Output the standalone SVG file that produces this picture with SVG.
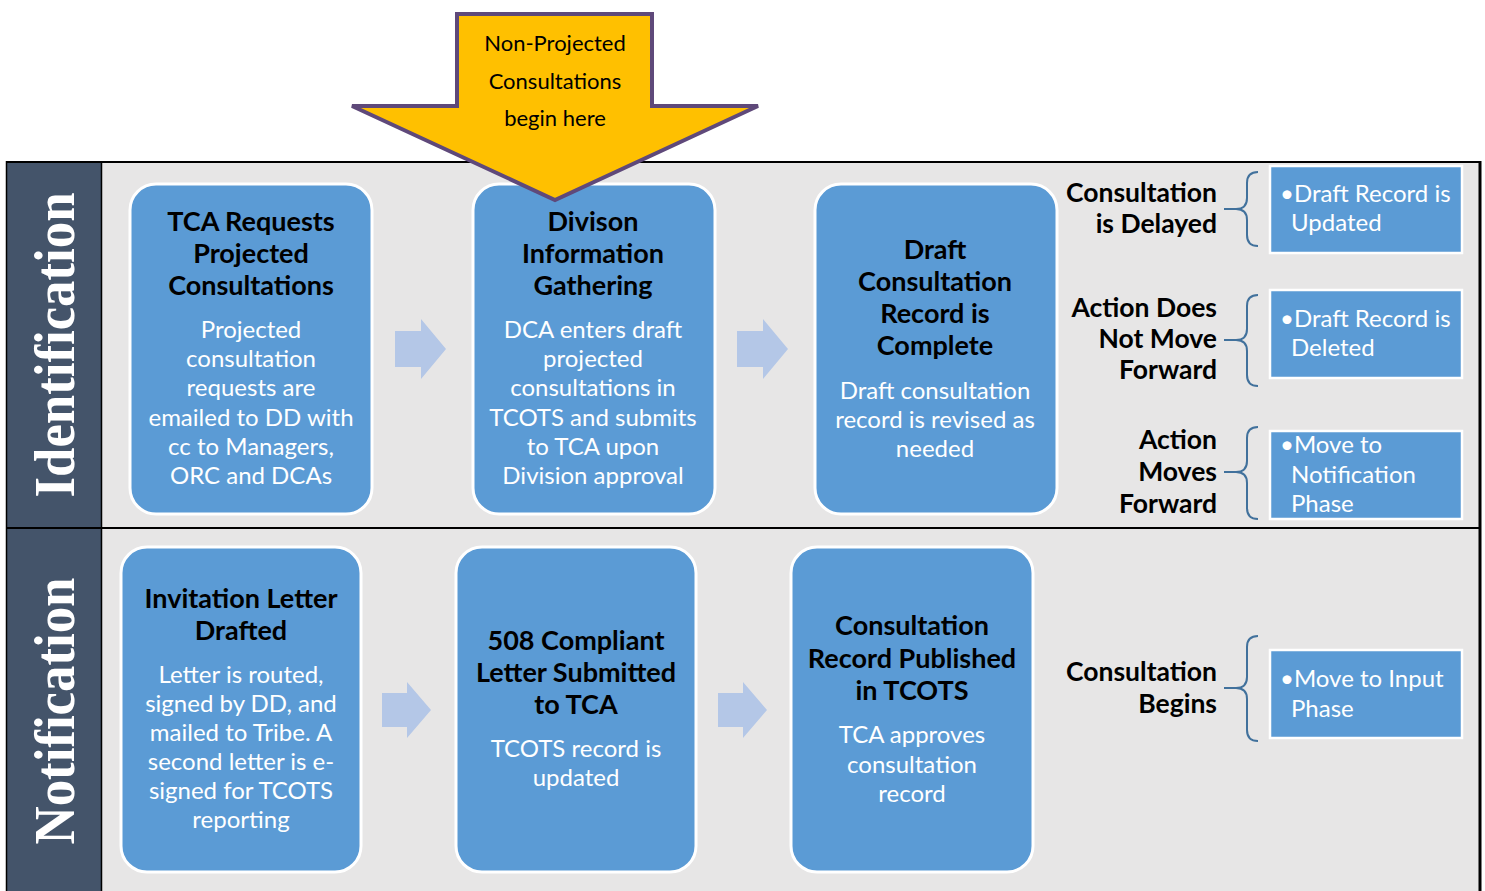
<svg xmlns="http://www.w3.org/2000/svg" width="1485" height="891" viewBox="0 0 1485 891">
  <style>
    .step rect { fill: #5b9bd5; stroke: #ffffff; stroke-width: 3; }
    .title { font-family: Lato, "Open Sans", sans-serif; font-weight: 700; font-size: 27px; fill: #000000; text-anchor: middle; }
    .body { font-family: Lato, "Open Sans", sans-serif; font-size: 24px; fill: #ffffff; text-anchor: middle; }
    .result rect { fill: #5b9bd5; stroke: #ffffff; stroke-width: 2.5; }
    .result text { font-family: Lato, "Open Sans", sans-serif; font-size: 24px; fill: #ffffff; }
    .result text.outcome { font-weight: 700; font-size: 26.5px; fill: #000000; text-anchor: end; }
    .phase { font-family: "Liberation Serif", serif; font-weight: 700; font-size: 56px; fill: #ffffff; text-anchor: middle; }
    .brace { fill: none; stroke: #41719c; stroke-width: 2; }
    .flow { fill: #b4c7e7; }
    .entry { font-family: Lato, "Open Sans", sans-serif; font-size: 22px; fill: #000000; text-anchor: middle; }
  </style>

  <!-- swimlane frame -->
  <g id="lanes">
    <rect x="102" y="162" width="1377" height="729" fill="#e7e6e6"/>
    <rect x="7" y="162" width="95" height="729" fill="#44546a"/>
    <line x1="6.5" y1="162" x2="1481" y2="162" stroke="#000" stroke-width="2"/>
    <line x1="6.5" y1="161" x2="6.5" y2="891" stroke="#000" stroke-width="1.5"/>
    <line x1="101.5" y1="162" x2="101.5" y2="891" stroke="#000" stroke-width="1.5"/>
    <line x1="1480" y1="161" x2="1480" y2="891" stroke="#000" stroke-width="3"/>
    <line x1="6.5" y1="528" x2="1481" y2="528" stroke="#000" stroke-width="2"/>
    <text class="phase" transform="translate(74,345) rotate(-90)" textLength="305" lengthAdjust="spacingAndGlyphs">Identification</text>
    <text class="phase" transform="translate(74,711) rotate(-90)" textLength="267" lengthAdjust="spacingAndGlyphs">Notification</text>
  </g>

  <!-- flow arrows between steps, and braces to the outcomes -->
  <g id="connectors">
    <polygon class="flow" points="395,331 421,331 421,319 446,349 421,379 421,367 395,367"/>
    <polygon class="flow" points="737,331 763,331 763,319 788,349 763,379 763,367 737,367"/>
    <polygon class="flow" points="382,693 407,693 407,682 431,710 407,738 407,727 382,727"/>
    <polygon class="flow" points="718,693 743,693 743,682 767,710 743,738 743,727 718,727"/>
    <path class="brace" d="M1258,172 Q1247,172 1247,183 L1247,198 Q1247,209 1236,209 L1224,209 M1236,209 Q1247,209 1247,220 L1247,235 Q1247,246 1258,246"/>
    <path class="brace" d="M1258,295 Q1247,295 1247,306 L1247,329 Q1247,340 1236,340 L1224,340 M1236,340 Q1247,340 1247,351 L1247,375 Q1247,386 1258,386"/>
    <path class="brace" d="M1258,427 Q1247,427 1247,438 L1247,461 Q1247,472 1236,472 L1224,472 M1236,472 Q1247,472 1247,483 L1247,508 Q1247,519 1258,519"/>
    <path class="brace" d="M1258,636 Q1247,636 1247,647 L1247,677 Q1247,688 1236,688 L1224,688 M1236,688 Q1247,688 1247,699 L1247,730 Q1247,741 1258,741"/>
  </g>

  <!-- identification steps -->
  <g id="tca-requests" class="step">
    <rect x="130" y="184" width="242" height="330" rx="26"/>
    <text class="title" x="251" y="231">TCA Requests</text>
    <text class="title" x="251" y="263">Projected</text>
    <text class="title" x="251" y="295">Consultations</text>
    <text class="body" x="251" y="338">Projected</text>
    <text class="body" x="251" y="367">consultation</text>
    <text class="body" x="251" y="396">requests are</text>
    <text class="body" x="251" y="426">emailed to DD with</text>
    <text class="body" x="251" y="455">cc to Managers,</text>
    <text class="body" x="251" y="484">ORC and DCAs</text>
  </g>

  <g id="division-gathering" class="step">
    <rect x="473" y="184" width="242" height="330" rx="26"/>
    <text class="title" x="593" y="231">Divison</text>
    <text class="title" x="593" y="263">Information</text>
    <text class="title" x="593" y="295">Gathering</text>
    <text class="body" x="593" y="338">DCA enters draft</text>
    <text class="body" x="593" y="367">projected</text>
    <text class="body" x="593" y="396">consultations in</text>
    <text class="body" x="593" y="426">TCOTS and submits</text>
    <text class="body" x="593" y="455">to TCA upon</text>
    <text class="body" x="593" y="484">Division approval</text>
  </g>

  <g id="draft-complete" class="step">
    <rect x="815" y="184" width="242" height="330" rx="26"/>
    <text class="title" x="935" y="259">Draft</text>
    <text class="title" x="935" y="291">Consultation</text>
    <text class="title" x="935" y="323">Record is</text>
    <text class="title" x="935" y="355">Complete</text>
    <text class="body" x="935" y="399">Draft consultation</text>
    <text class="body" x="935" y="428">record is revised as</text>
    <text class="body" x="935" y="457">needed</text>
  </g>

  <!-- entry point for non-projected consultations -->
  <g id="non-projected">
    <polygon points="457,14 652,14 652,106 758,106 555,200 352,106 457,106" fill="#ffc000" stroke="#5f497a" stroke-width="4" stroke-linejoin="miter"/>
    <text class="entry" x="555" y="51">Non-Projected</text>
    <text class="entry" x="555" y="89">Consultations</text>
    <text class="entry" x="555" y="126">begin here</text>
  </g>

  <!-- identification outcomes -->
  <g id="delayed" class="result">
    <text class="outcome" x="1217" y="202">Consultation</text>
    <text class="outcome" x="1217" y="233">is Delayed</text>
    <rect x="1270" y="166" width="192" height="87"/>
    <text x="1280" y="202">•Draft Record is</text>
    <text x="1291" y="231">Updated</text>
  </g>

  <g id="not-forward" class="result">
    <text class="outcome" x="1217" y="317">Action Does</text>
    <text class="outcome" x="1217" y="348">Not Move</text>
    <text class="outcome" x="1217" y="379">Forward</text>
    <rect x="1270" y="290" width="192" height="88"/>
    <text x="1280" y="327">•Draft Record is</text>
    <text x="1291" y="356">Deleted</text>
  </g>

  <g id="moves-forward" class="result">
    <text class="outcome" x="1217" y="449">Action</text>
    <text class="outcome" x="1217" y="481">Moves</text>
    <text class="outcome" x="1217" y="513">Forward</text>
    <rect x="1270" y="431" width="192" height="88"/>
    <text x="1280" y="453">•Move to</text>
    <text x="1291" y="483">Notification</text>
    <text x="1291" y="512">Phase</text>
  </g>

  <!-- notification steps -->
  <g id="invitation-letter" class="step">
    <rect x="121" y="547" width="240" height="325" rx="26"/>
    <text class="title" x="241" y="608">Invitation Letter</text>
    <text class="title" x="241" y="640">Drafted</text>
    <text class="body" x="241" y="683">Letter is routed,</text>
    <text class="body" x="241" y="712">signed by DD, and</text>
    <text class="body" x="241" y="741">mailed to Tribe. A</text>
    <text class="body" x="241" y="770">second letter is e-</text>
    <text class="body" x="241" y="799">signed for TCOTS</text>
    <text class="body" x="241" y="828">reporting</text>
  </g>

  <g id="letter-submitted" class="step">
    <rect x="456" y="547" width="240" height="325" rx="26"/>
    <text class="title" x="576" y="650">508 Compliant</text>
    <text class="title" x="576" y="682">Letter Submitted</text>
    <text class="title" x="576" y="714">to TCA</text>
    <text class="body" x="576" y="757">TCOTS record is</text>
    <text class="body" x="576" y="786">updated</text>
  </g>

  <g id="record-published" class="step">
    <rect x="791" y="547" width="242" height="325" rx="26"/>
    <text class="title" x="912" y="635">Consultation</text>
    <text class="title" x="912" y="668">Record Published</text>
    <text class="title" x="912" y="700">in TCOTS</text>
    <text class="body" x="912" y="743">TCA approves</text>
    <text class="body" x="912" y="773">consultation</text>
    <text class="body" x="912" y="802">record</text>
  </g>

  <!-- notification outcome -->
  <g id="consultation-begins" class="result">
    <text class="outcome" x="1217" y="681">Consultation</text>
    <text class="outcome" x="1217" y="713">Begins</text>
    <rect x="1270" y="650" width="192" height="88"/>
    <text x="1280" y="687">•Move to Input</text>
    <text x="1291" y="717">Phase</text>
  </g>
</svg>
